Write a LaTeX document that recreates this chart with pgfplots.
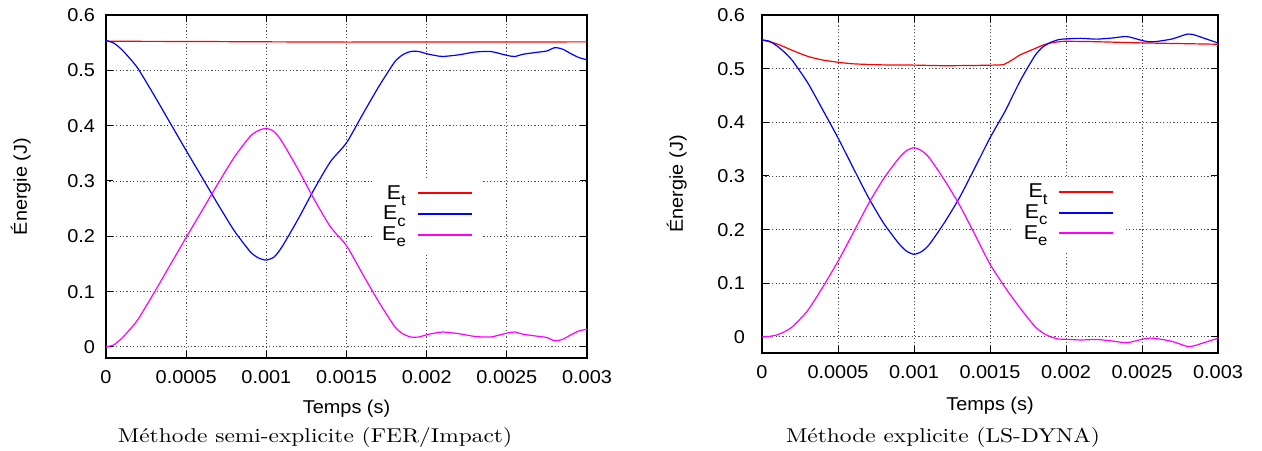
\documentclass[border=0pt]{standalone}
\usepackage{fontspec}
\usepackage{graphicx}
\usepackage{pgfplots}
\pgfplotsset{compat=1.18}
\newfontfamily\plotfont[FakeStretch=1.07]{Liberation Sans}
\definecolor{mag}{RGB}{255,0,255}
\definecolor{rouge}{RGB}{255,0,0}
\definecolor{bleu}{RGB}{0,0,255}

\newcommand{\Esub}[1]{E\raisebox{-3.2pt}[0pt][0pt]{\fontsize{7.8}{8}\selectfont #1}}
\newcommand{\legline}[1]{\textcolor{#1}{\rule[2.4pt]{27pt}{1pt}}}
\newcommand{\legende}{%
  \plotfont\fontsize{10}{10.3}\selectfont
  \begin{tabular}{@{}r@{\hspace{6pt}}l@{}}
  \Esub{t} & \legline{rouge}\\
  \Esub{c} & \legline{bleu}\\
  \Esub{e} & \legline{mag}
  \end{tabular}}

\pgfplotsset{
  energie/.style={
    scale only axis,
    xmin=0, xmax=0.003,
    xtick={0,0.0005,0.001,0.0015,0.002,0.0025,0.003},
    xticklabels={0,0.0005,0.001,0.0015,0.002,0.0025,0.003},
    ytick={0,0.1,0.2,0.3,0.4,0.5,0.6},
    yticklabels={0,0.1,0.2,0.3,0.4,0.5,0.6},
    scaled x ticks=false, scaled y ticks=false,
    ymax=0.6,
    tick align=inside, tick pos=both,
    major tick length=3.5pt,
    every tick/.style={black, line width=0.5pt},
    axis line style={black, line width=0.9pt},
    grid=major,
    grid style={black!70, line width=0.45pt, dash pattern=on 0.6pt off 1.1pt},
    tick label style={font=\plotfont\fontsize{9.3}{10}\selectfont},
    xticklabel style={yshift=-2.5pt},
    yticklabel style={xshift=-2pt},
    label style={font=\plotfont\fontsize{9.3}{10}\selectfont},
    xlabel={Temps (s)},
    ylabel={Énergie (J)},
  },
}

\begin{document}
\begin{tikzpicture}
\useasboundingbox (0,0) rectangle (631pt,225pt);

% semi-explicite (FER/Impact)
\begin{axis}[energie,
  at={(53pt,46pt)}, anchor=south west,
  width=240.5pt, height=171.5pt, ymin=-0.02,
  xlabel style={at={(axis description cs:0.5,-0.149)}, anchor=center},
  ylabel style={at={(axis description cs:-0.177,0.5)}, anchor=center},
]
\addplot[rouge, line width=0.6pt] coordinates {
(0,0.5525) (0.0005,0.5522) (0.001,0.5515) (0.0015,0.5510) (0.002,0.5512) (0.0025,0.5513) (0.003,0.5514)};
\addplot[bleu, line width=0.6pt, smooth, tension=0.4] coordinates {
(0,0.554) (0.00005,0.549) (0.0001,0.537) (0.00015,0.521) (0.0002,0.503) (0.0003,0.455)
(0.0004,0.405) (0.0005,0.355) (0.0006,0.306) (0.0007,0.257) (0.0008,0.210) (0.0009,0.172)
(0.00095,0.161) (0.001,0.157) (0.00105,0.163) (0.0011,0.182) (0.0012,0.232) (0.0013,0.286)
(0.0014,0.335) (0.0015,0.369) (0.0016,0.420) (0.0017,0.470) (0.0018,0.515) (0.00185,0.528)
(0.0019,0.534) (0.00195,0.534) (0.002,0.530) (0.00205,0.527) (0.0021,0.525) (0.0022,0.528)
(0.0023,0.533) (0.0024,0.534) (0.0025,0.527) (0.00255,0.525) (0.0026,0.529) (0.0027,0.533)
(0.00275,0.535) (0.0028,0.541) (0.00285,0.538) (0.0029,0.530) (0.00295,0.523) (0.003,0.519)};
\addplot[mag, line width=0.6pt, smooth, tension=0.4] coordinates {
(0,0) (0.00005,0.004) (0.0001,0.016) (0.00015,0.032) (0.0002,0.050) (0.0003,0.098)
(0.0004,0.148) (0.0005,0.198) (0.0006,0.247) (0.0007,0.296) (0.0008,0.343) (0.0009,0.381)
(0.00095,0.391) (0.001,0.395) (0.00105,0.389) (0.0011,0.370) (0.0012,0.320) (0.0013,0.266)
(0.0014,0.217) (0.0015,0.183) (0.0016,0.132) (0.0017,0.082) (0.0018,0.037) (0.00185,0.024)
(0.0019,0.018) (0.00195,0.018) (0.002,0.022) (0.00205,0.025) (0.0021,0.027) (0.0022,0.024)
(0.0023,0.019) (0.0024,0.018) (0.0025,0.025) (0.00255,0.027) (0.0026,0.023) (0.0027,0.019)
(0.00275,0.017) (0.0028,0.011) (0.00285,0.014) (0.0029,0.022) (0.00295,0.029) (0.003,0.032)};
\node[fill=white, inner xsep=4.5pt, inner ysep=3pt, anchor=east] at (rel axis cs:0.78,0.415) {\legende};
\end{axis}

% explicite (LS-DYNA)
\begin{axis}[energie,
  at={(381pt,48.5pt)}, anchor=south west,
  width=228pt, height=169pt, ymin=-0.03,
  xlabel style={at={(axis description cs:0.5,-0.155)}, anchor=center},
  ylabel style={at={(axis description cs:-0.187,0.5)}, anchor=center},
  yticklabel style={xshift=-3pt},
]
\addplot[rouge, line width=0.6pt, smooth, tension=0.4] coordinates {
(0,0.5536) (0.0001,0.546) (0.0002,0.534) (0.0003,0.523) (0.0004,0.516) (0.0005,0.512)
(0.0006,0.509) (0.0008,0.507) (0.001,0.5066) (0.0012,0.5055) (0.0014,0.506) (0.00157,0.507)
(0.0016,0.509) (0.00165,0.517) (0.0017,0.526) (0.00175,0.532) (0.0018,0.538) (0.00185,0.544)
(0.0019,0.548) (0.00195,0.550) (0.002,0.551) (0.0022,0.5502) (0.0025,0.548) (0.003,0.5455)};
\addplot[bleu, line width=0.6pt, smooth, tension=0.4] coordinates {
(0,0.5536) (0.00005,0.551) (0.0001,0.542) (0.00015,0.530) (0.0002,0.515) (0.0003,0.474)
(0.0004,0.423) (0.0005,0.371) (0.0006,0.315) (0.0007,0.260) (0.0008,0.212) (0.0009,0.174)
(0.00095,0.160) (0.001,0.154) (0.00105,0.159) (0.0011,0.172) (0.0012,0.213) (0.0013,0.260)
(0.0014,0.315) (0.0015,0.371) (0.0016,0.421) (0.00165,0.450) (0.0017,0.478) (0.00175,0.503)
(0.0018,0.526) (0.00185,0.541) (0.0019,0.549) (0.00195,0.554) (0.002,0.5555) (0.0021,0.5565)
(0.0022,0.5550) (0.0023,0.5570) (0.0024,0.5598) (0.0025,0.5525) (0.00255,0.5500) (0.0026,0.5508)
(0.0027,0.5555) (0.0028,0.5645) (0.00285,0.5625) (0.0029,0.5575) (0.003,0.548)};
\addplot[mag, line width=0.6pt, smooth, tension=0.4] coordinates {
(0,0) (0.00005,0.001) (0.0001,0.004) (0.00015,0.010) (0.0002,0.019) (0.0003,0.049)
(0.0004,0.093) (0.0005,0.141) (0.0006,0.194) (0.0007,0.248) (0.0008,0.295) (0.0009,0.333)
(0.00095,0.347) (0.001,0.3526) (0.00105,0.347) (0.0011,0.334) (0.0012,0.2925) (0.0013,0.2455)
(0.0014,0.191) (0.0015,0.1355) (0.0016,0.092) (0.00165,0.072) (0.0017,0.053) (0.00175,0.035)
(0.0018,0.018) (0.00185,0.007) (0.0019,0.000) (0.00195,-0.004) (0.002,-0.0045) (0.0021,-0.0057)
(0.0022,-0.0048) (0.0023,-0.0075) (0.0024,-0.0108) (0.0025,-0.0045) (0.00255,-0.0022) (0.0026,-0.0033)
(0.0027,-0.0085) (0.0028,-0.018) (0.00285,-0.016) (0.0029,-0.0115) (0.003,-0.0025)};
\node[fill=white, inner xsep=6.5pt, inner ysep=3pt, anchor=east] at (rel axis cs:0.80,0.41) {\legende};
\end{axis}

\node at (157.5pt,6.3pt) {\scalebox{1.17}[1]{\fontsize{10}{12}\selectfont Méthode semi-explicite (FER/Impact)}};
\node at (471.5pt,6.3pt) {\scalebox{1.17}[1]{\fontsize{10}{12}\selectfont Méthode explicite (LS-DYNA)}};
\end{tikzpicture}
\end{document}
